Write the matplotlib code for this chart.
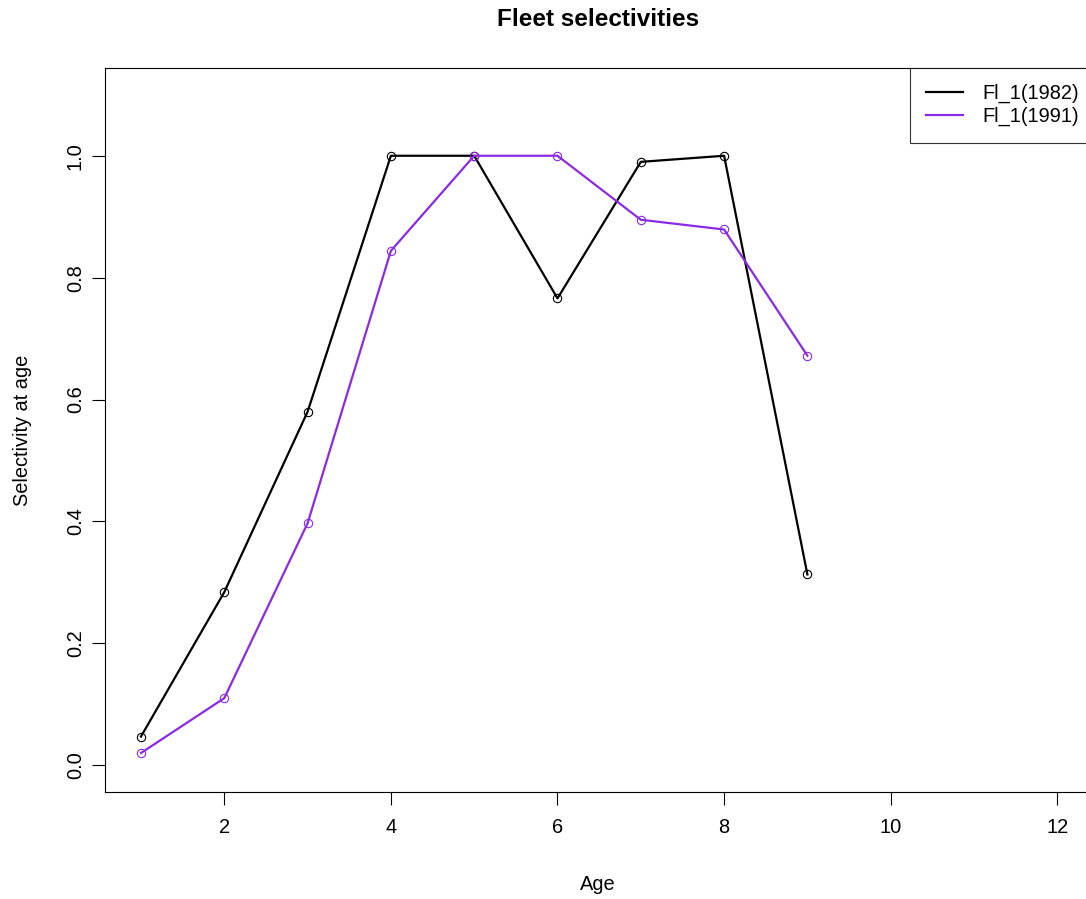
import matplotlib.pyplot as plt

# Selectivity at age, two fleet years
ages = [1, 2, 3, 4, 5, 6, 7, 8, 9]
sel_1982 = [0.047, 0.284, 0.580, 1.0, 1.0, 0.766, 0.990, 1.0, 0.313]
sel_1991 = [0.020, 0.110, 0.397, 0.844, 1.0, 1.0, 0.895, 0.879, 0.672]
series_labels = ["Fl_1(1982)", "Fl_1(1991)"]
series_colors = ["black", "#8A2BE2"]

x_ticks = [2, 4, 6, 8, 10, 12]
y_ticks = [0.0, 0.2, 0.4, 0.6, 0.8, 1.0]

plt.rcParams['font.family'] = ['Liberation Sans', 'DejaVu Sans']
FS = 14.4

W, H = 1086, 899
fig = plt.figure(figsize=(W / 100, H / 100), dpi=100)

# axes box runs past the right edge of the picture (cropped R plot)
left, right, bottom, top = 105, 1140.6, 107, 831
ax = fig.add_axes([left / W, bottom / H, (right - left) / W, (top - bottom) / H])

for vals, lab, col in zip([sel_1982, sel_1991], series_labels, series_colors):
    ax.plot(ages, vals, color=col, linewidth=1.6, label=lab,
            marker='o', markersize=6, markerfacecolor='none',
            markeredgecolor=col, markeredgewidth=0.8)

ax.set_xlim(0.568, 13.0)
ax.set_ylim(-0.044, 1.144)
ax.set_xticks(x_ticks)
ax.set_xticklabels([str(t) for t in x_ticks], fontsize=FS)
ax.set_yticks(y_ticks)
ax.set_yticklabels([f"{t:.1f}" for t in y_ticks], fontsize=FS,
                   rotation=90, va='center')
ax.tick_params(axis='x', length=9.4, width=0.8, pad=9)
ax.tick_params(axis='y', length=9.4, width=0.8, pad=5)
for s in ax.spines.values():
    s.set_linewidth(0.8)
ax.spines['right'].set_visible(False)

fig.text(23 / W, 1 - 430 / H, "Selectivity at age", rotation=90,
         ha='center', va='center', fontsize=FS)
fig.text(598 / W, 1 - 884 / H, "Age", ha='center', va='center', fontsize=FS)
fig.text(598 / W, 1 - 20 / H, "Fleet selectivities", ha='center',
         va='center', fontsize=17.5, fontweight='bold')

leg = ax.legend(loc='upper left', bbox_to_anchor=(910 / W, top / H),
                bbox_transform=fig.transFigure, frameon=True, fancybox=False,
                fontsize=FS, handlelength=1.85, handletextpad=0.95,
                borderaxespad=0, borderpad=0.8, labelspacing=0.2)
leg.get_frame().set_edgecolor('black')
leg.get_frame().set_linewidth(0.8)
for h in leg.legend_handles:
    h.set_marker('')

fig.savefig("out.png", dpi=100)
